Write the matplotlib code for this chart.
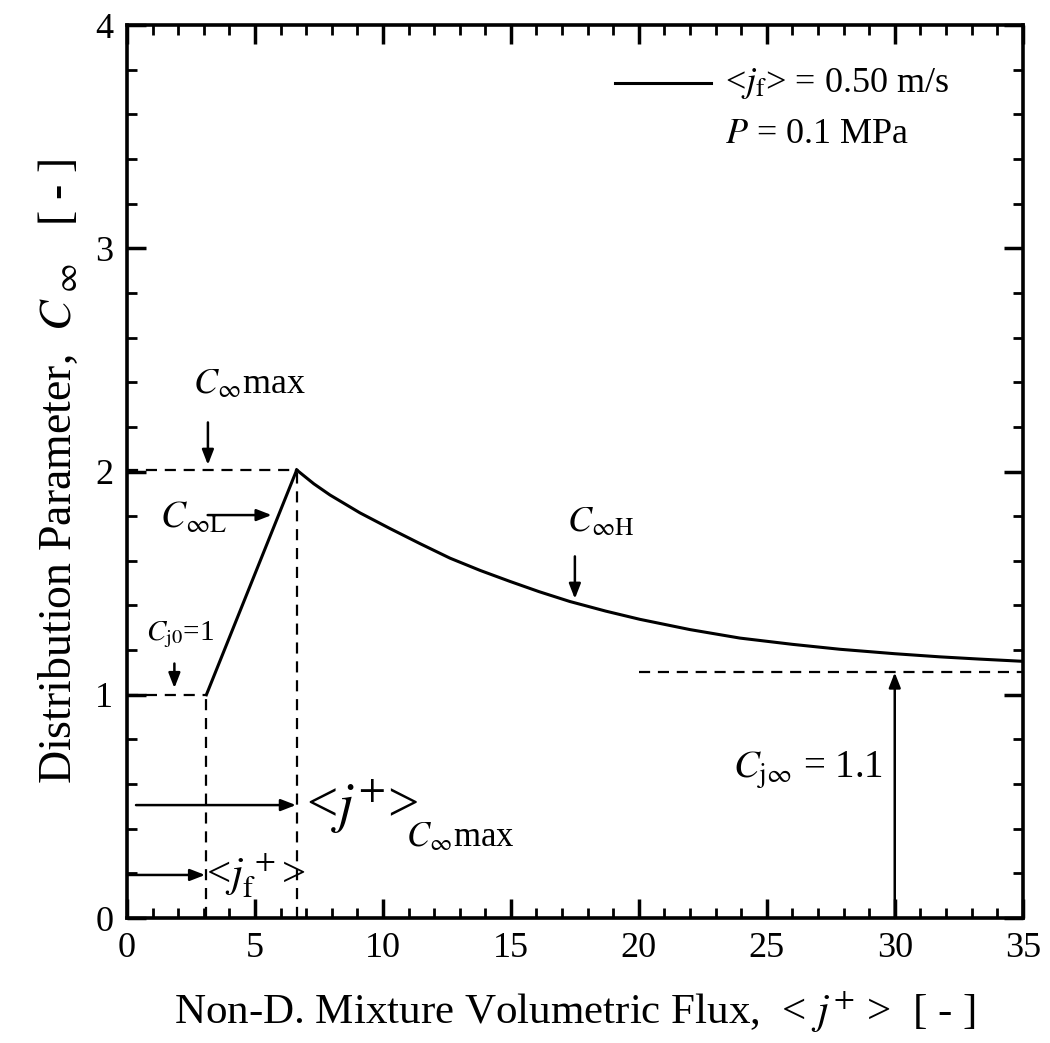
import matplotlib
matplotlib.use("Agg")
import matplotlib.pyplot as plt
from matplotlib.ticker import MultipleLocator

plt.rcParams['font.family'] = ['Liberation Serif', 'DejaVu Serif']
plt.rcParams['mathtext.fontset'] = 'stix'

# --- data ---
jf_plus = 3.1          # <j_f^+>
j_cmax = 6.63          # <j^+>_{C max}
C_j0 = 1.0
C_max = 2.007
C_jinf = 1.1

low_x = [jf_plus, j_cmax]
low_C = [C_j0, C_max]

high_x = [6.63, 7.3, 7.93, 9.1, 10.27, 11.45, 12.62, 13.8, 14.96, 16.1, 17.3, 18.7,
          20.04, 22.0, 23.95, 26.0, 27.85, 30.0, 31.76, 33.3, 35.0]
high_C = [2.007, 1.945, 1.895, 1.815, 1.745, 1.677, 1.612, 1.557, 1.508, 1.462, 1.418, 1.375,
          1.338, 1.292, 1.254, 1.226, 1.204, 1.184, 1.170, 1.160, 1.150]

xticks = [0, 5, 10, 15, 20, 25, 30, 35]
yticks = [0, 1, 2, 3, 4]

fig = plt.figure(figsize=(10.5, 10.43), dpi=100)
ax = fig.add_axes([0.121, 0.1198, 0.853, 0.8562])

ax.plot(low_x, low_C, color='black', lw=2.2, solid_joinstyle='round')
ax.plot(high_x, high_C, color='black', lw=2.2, solid_joinstyle='round')

dash = dict(color='black', lw=1.6, ls=(0, (5, 3.5)))
ax.plot([0, j_cmax], [C_max, C_max], **dash)
ax.plot([j_cmax, j_cmax], [0, C_max], **dash)
ax.plot([0, jf_plus], [C_j0, C_j0], **dash)
ax.plot([jf_plus, jf_plus], [0, C_j0], **dash)
ax.plot([20.0, 35.0], [C_jinf, C_jinf], **dash)

ax.set_xlim(0, 35)
ax.set_ylim(0, 4)
ax.set_xticks(xticks)
ax.set_yticks(yticks)
ax.xaxis.set_minor_locator(MultipleLocator(1))
ax.yaxis.set_minor_locator(MultipleLocator(0.2))
ax.tick_params(which='both', direction='in', top=True, right=True)
ax.tick_params(which='major', length=14, width=2.5, labelsize=26, pad=10)
ax.tick_params(which='minor', length=7, width=2.0)
for s in ax.spines.values():
    s.set_linewidth(2.6)

ax.set_xlabel(r'Non-D. Mixture Volumetric Flux,  < $j^{+}$ >  [ - ]', fontsize=31, labelpad=18)
ax.set_ylabel(r'Distribution Parameter,  $C_{\ \infty}$   [ - ]', fontsize=33, labelpad=10)

arr = dict(arrowstyle='-|>,head_length=0.9,head_width=0.35', color='black', lw=1.8, shrinkA=0, shrinkB=0)

# legend-like text
ax.plot([19.06, 22.8], [3.74, 3.74], color='black', lw=2.2)
ax.text(23.36, 3.74, r'<$j_{\rm f}$> = 0.50 m/s', fontsize=26, va='center', ha='left')
ax.text(23.36, 3.51, r'$P$ = 0.1 MPa', fontsize=26, va='center', ha='left')

# C max
ax.text(4.8, 2.39, r'$C_{\infty}$max', fontsize=26, ha='center', va='center')
ax.annotate('', xy=(3.16, 2.03), xytext=(3.16, 2.22), arrowprops=arr)

# C_L
ax.text(1.3, 1.79, r'$C_{\infty\rm L}$', fontsize=27, ha='left', va='center')
ax.annotate('', xy=(5.65, 1.805), xytext=(3.15, 1.805), arrowprops=arr)

# C_j0
ax.text(0.75, 1.27, r'$C_{\rm j0}$=1', fontsize=21, ha='left', va='center')
ax.annotate('', xy=(1.85, 1.03), xytext=(1.85, 1.14), arrowprops=arr)

# <j+>_Cmax
ax.annotate('', xy=(6.6, 0.506), xytext=(0.35, 0.506), arrowprops=arr)
ax.text(7.0, 0.50, r'<$j^{+}$>', fontsize=40, ha='left', va='center')
ax.text(10.9, 0.36, r'$C_{\infty}$max', fontsize=25, ha='left', va='center')

# <j_f+>
ax.annotate('', xy=(3.05, 0.193), xytext=(0.0, 0.193), arrowprops=arr)
ax.text(3.1, 0.19, r'<$j_{\rm f}^{\,+}$>', fontsize=31, ha='left', va='center')

# C_H
ax.text(17.2, 1.77, r'$C_{\infty\rm H}$', fontsize=26, ha='left', va='center')
ax.annotate('', xy=(17.5, 1.43), xytext=(17.5, 1.62), arrowprops=arr)

# C_j_inf
ax.annotate('', xy=(30.0, C_jinf), xytext=(30.0, 0.0), arrowprops=arr)
ax.text(26.6, 0.66, r'$C_{\rm j\infty}$ = 1.1', fontsize=28, ha='center', va='center')

fig.savefig('out.png', dpi=100)
